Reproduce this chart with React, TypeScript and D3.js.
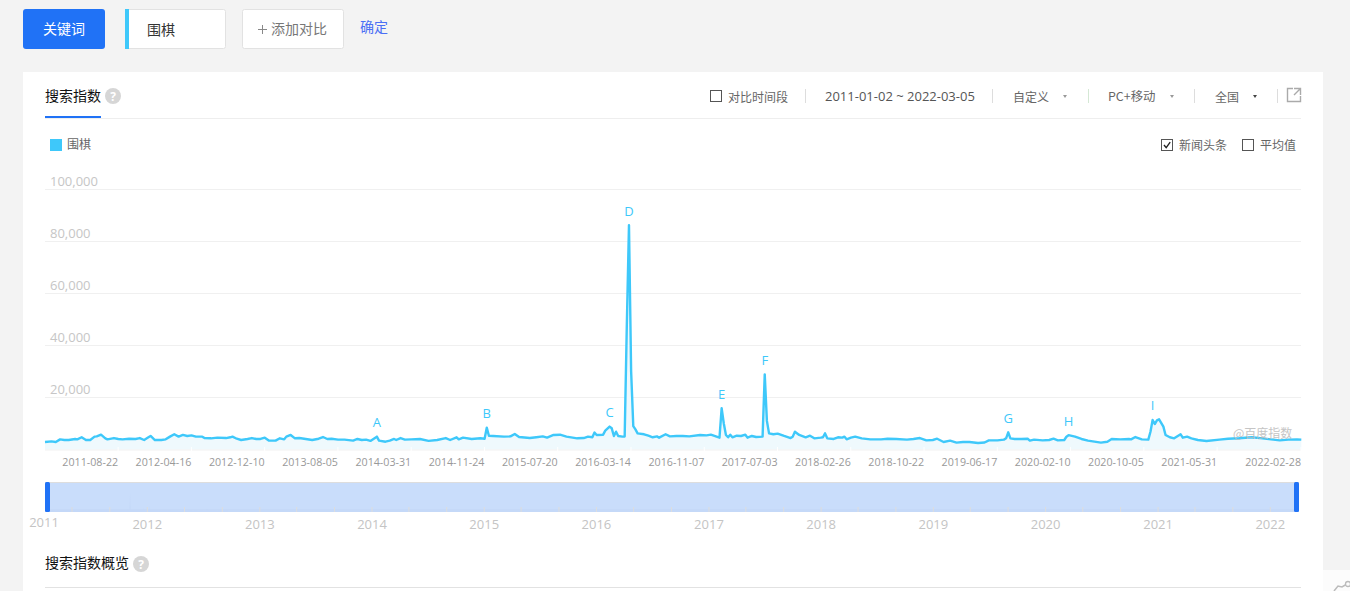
import * as d3 from 'd3';

// Weeks since the first day of the range, with the index
const startDate = new Date(2011, 0, 2);
const endDate = new Date(2022, 2, 5);

const weeks = [
  0, 3, 5, 7, 9, 11, 14, 15, 17, 19,
  21, 23, 24, 26, 28, 29, 32, 34, 36, 39,
  42, 44, 46, 48, 49, 51, 54, 56, 58, 60,
  62, 64, 66, 68, 70, 73, 74, 77, 80, 84,
  86, 87, 89, 91, 94, 96, 98, 100, 102, 104,
  107, 109, 111, 112, 114, 116, 118, 121, 124, 127,
  129, 131, 133, 136, 139, 143, 145, 147, 149, 151,
  154, 155, 158, 160, 162, 163, 165, 167, 170, 174,
  178, 182, 186, 188, 191, 192, 194, 198, 202, 204,
  205, 206, 208, 213, 216, 218, 220, 225, 228, 231,
  233, 236, 239, 242, 247, 250, 252, 254, 255, 256,
  259, 260, 262, 263, 264, 265, 266, 268, 269, 270,
  271, 272, 273, 274, 275, 278, 280, 282, 284, 285,
  288, 290, 293, 296, 299, 304, 307, 309, 313, 314,
  315, 316, 317, 318, 319, 321, 323, 325, 326, 328,
  330, 333, 334, 335, 336, 338, 340, 343, 346, 347,
  348, 350, 353, 355, 357, 360, 361, 362, 363, 366,
  368, 370, 371, 372, 374, 376, 379, 383, 388, 391,
  395, 400, 403, 406, 409, 412, 414, 417, 420, 423,
  426, 429, 433, 436, 438, 442, 445, 446, 447, 448,
  450, 453, 456, 457, 459, 463, 466, 468, 470, 473,
  474, 475, 478, 481, 484, 490, 493, 495, 499, 503,
  504, 506, 509, 512, 513, 514, 515, 516, 517, 519,
  520, 522, 524, 527, 528, 530, 532, 535, 539, 545,
  549, 554, 560, 565, 569, 573, 577, 581, 583,
];

const indexValues = [
  2900, 3140, 2900, 3900, 3650, 3650, 4050, 3900, 4700, 3650,
  3650, 4950, 5050, 5700, 4300, 3900, 4400, 4050, 3900, 4150,
  4050, 4400, 3650, 4700, 5200, 3650, 3650, 3900, 4950, 5850,
  4950, 5600, 5200, 5450, 4950, 4950, 4400, 4300, 4550, 4400,
  4700, 4950, 4150, 3650, 4050, 4400, 4050, 4050, 4550, 3400,
  3400, 4300, 3900, 4950, 5600, 4300, 4400, 4050, 3650, 4150,
  4800, 4050, 4150, 3800, 3800, 3400, 4050, 3650, 3800, 3300,
  4950, 3400, 3000, 3400, 4050, 3650, 4400, 3800, 3900, 4050,
  3300, 3650, 4400, 3650, 4700, 3900, 4550, 4050, 4300, 4150,
  8400, 5300, 5200, 4950, 5050, 5950, 4800, 4400, 4700, 5050,
  4550, 5600, 5700, 4950, 4300, 4400, 4950, 4700, 6500, 5600,
  5700, 7250, 8800, 8150, 5200, 6850, 5200, 4950, 5000, 48000,
  86300, 30000, 9000, 7750, 6200, 5850, 5300, 4700, 5050, 4550,
  5850, 5050, 5200, 5200, 5050, 5600, 5450, 5700, 4550, 15850,
  10000, 5600, 4700, 5700, 4700, 5300, 5200, 5700, 4550, 5200,
  4800, 4950, 28900, 11000, 6200, 5850, 6100, 5200, 4400, 4950,
  6850, 5600, 4700, 5300, 4300, 4550, 4700, 6200, 4300, 4050,
  4700, 4550, 4950, 3900, 4550, 4950, 4300, 3900, 3900, 4150,
  4050, 3800, 4050, 4400, 3500, 3650, 4150, 2900, 3400, 2650,
  2900, 2900, 2500, 2700, 3500, 3500, 3800, 4300, 6600, 4300,
  4050, 4050, 4150, 3400, 3800, 3500, 3650, 4150, 3500, 3650,
  4900, 5500, 4950, 4050, 3400, 2650, 3000, 4050, 3900, 4050,
  3900, 4800, 3900, 3800, 6850, 11350, 9800, 11200, 11600, 8800,
  5600, 4700, 4300, 5850, 4550, 4950, 4300, 3650, 3250, 3800,
  4150, 4300, 4700, 4300, 3900, 3500, 3800, 3900, 3800,
];

const newsLetters = ['A', 'B', 'C', 'D', 'E', 'F', 'G', 'H', 'I'];
const newsWeeks = [154, 205, 262, 271, 314, 334, 447, 475, 514];

const yTicks = [20000, 40000, 60000, 80000, 100000];
const xTickLabels = [
  '2011-08-22', '2012-04-16', '2012-12-10', '2013-08-05', '2014-03-31', '2014-11-24',
  '2015-07-20', '2016-03-14', '2016-11-07', '2017-07-03', '2018-02-26', '2018-10-22',
  '2019-06-17', '2020-02-10', '2020-10-05', '2021-05-31', '2022-02-28',
];
const brushYears = [2011, 2012, 2013, 2014, 2015, 2016, 2017, 2018, 2019, 2020, 2021, 2022];

const LATIN = '"Open Sans", "Noto Sans CJK SC", sans-serif';
const CJK = '"Noto Sans CJK SC", "Open Sans", sans-serif';
const BLUE = '#2072f6';
const CYAN = '#3ec8fa';

const parseDay = d3.timeParse('%Y-%m-%d');
const points = weeks.map((w, i) => ({ week: w, date: d3.timeWeek.offset(startDate, w), value: indexValues[i] }));

const x = d3.scaleTime().domain([startDate, endDate]).range([45, 1301]);
const y = d3.scaleLinear().domain([0, 100000]).range([449.5, 189.5]);

// brush axis runs on its own scale, offset from the main one
const brushX = d3.scaleTime().domain([new Date(2011, 0, 1), new Date(2022, 0, 1)]).range([35.1, 1270.3]);
const brushTicks = d3.timeMonth.range(new Date(2011, 0, 1), new Date(2022, 2, 1), 4).filter(d => brushX(d) > 50);

// thumbnail in the brush is the same series squeezed into the left of the bar
const miniX = d3.scaleTime().domain([startDate, endDate]).range([45, 228]);
const miniY = d3.scaleLinear().domain([0, 86300]).range([511.5, 493]);

const linePath = d3.line<typeof points[0]>().x(d => x(d.date)).y(d => y(d.value)).curve(d3.curveLinear)(points) || '';
const areaPath = d3.area<typeof points[0]>().x(d => x(d.date)).y0(y(0)).y1(d => y(d.value))(points) || '';
const miniPath = d3.area<typeof points[0]>().x(d => miniX(d.date)).y0(miniY(0)).y1(d => miniY(d.value))(points) || '';

const Help = ({ cx, cy }: { cx: number; cy: number }) => (
  <g>
    <circle cx={cx} cy={cy} r={8} fill="#d6d6d6" />
    <text x={cx} y={cy + 4.5} textAnchor="middle" fontSize={12} fontWeight={700} fill="#fff" fontFamily={LATIN}>?</text>
  </g>
);

const Box = ({ px, py, checked }: { px: number; py: number; checked?: boolean }) => (
  <g>
    <rect x={px + 0.5} y={py + 0.5} width={11} height={11} fill="#fff" stroke="#555" />
    {checked && <path d={`M${px + 3} ${py + 6}l2.2 2.6 4-5.4`} fill="none" stroke="#222" strokeWidth={1.4} />}
  </g>
);

const Caret = ({ cx, fill }: { cx: number; fill: string }) => (
  <path d={`M${cx - 2} 95l4 0-2 3z`} fill={fill} />
);

const Label = ({ px, py, text, size = 12, fill = '#666', family = CJK, anchor = 'start' }: any) => (
  <text x={px} y={py - 1} fontSize={size} fill={fill} fontFamily={family} textAnchor={anchor} dominantBaseline="central">{text}</text>
);

export default function App() {
  return (
    <svg width={1350} height={591} style={{ position: 'absolute', left: 0, top: 0, display: 'block' }}>
      <rect width={1350} height={591} fill="#f3f3f3" />
      <rect x={1323} y={570} width={27} height={21} fill="#fcfcfc" />
      <path d="M1334 591l4-5 4 1 5-3" fill="none" stroke="#bbb" strokeWidth={1.5} />
      <circle cx={1348} cy={584} r={2.5} fill="#fcfcfc" stroke="#bbb" strokeWidth={1.3} />
      <rect x={23} y={72} width={1300} height={519} fill="#fff" />

      {/* top controls */}
      <rect x={23} y={9} width={82} height={40} rx={3} fill={BLUE} />
      <Label px={64} py={29} text="关键词" size={14} fill="#fff" anchor="middle" />
      <rect x={125.5} y={9.5} width={100} height={39} rx={2} fill="#fff" stroke="#e2e2e2" />
      <rect x={125} y={9} width={4} height={40} fill={CYAN} />
      <Label px={147} py={30} text="围棋" size={14} fill="#333" />
      <rect x={242.5} y={9.5} width={101} height={39} rx={2} fill="#fff" stroke="#e2e2e2" />
      <path d="M258 29.5h9M262.500 25v9" stroke="#888" strokeWidth={1} />
      <Label px={271} py={29} text="添加对比" size={14} fill="#777" />
      <Label px={360} py={27} text="确定" size={14} fill="#4a6ff5" />

      {/* tab row */}
      <Label px={45} py={96} text="搜索指数" size={14} fill="#111" />
      <Help cx={113} cy={96} />
      <rect x={45} y={116} width={56} height={2} fill={BLUE} />
      <line x1={45} x2={1301} y1={118.5} y2={118.5} stroke="#eee" />
      <Box px={710} py={90} />
      <Label px={728} py={97} text="对比时间段" />
      <Label px={825} py={97} text="2011-01-02 ~ 2022-03-05" size={13} fill="#555" family={LATIN} />
      <Label px={1013} py={97} text="自定义" />
      <Label px={1108} py={97} text="PC+移动" size={12.4} />
      <Label px={1215} py={97} text="全国" />
      <Caret cx={1065} fill="#999" />
      <Caret cx={1172} fill="#999" />
      <Caret cx={1255} fill="#444" />
      {[805, 992, 1194, 1277].map(sx => (
        <line key={sx} x1={sx + 0.5} x2={sx + 0.5} y1={89} y2={103} stroke="#ddd" />
      ))}
      <line x1={1088.5} x2={1088.5} y1={89} y2={103} stroke="#d5e8d5" />
      <path d="M1293 88.5h-5.5v13h13v-5.5M1294 88.5h6.500v6.500M1300 89l-6 6" fill="none" stroke="#aaa" strokeWidth={1.4} />

      {/* legend */}
      <rect x={50} y={139} width={12} height={12} fill={CYAN} />
      <Label px={67} py={144} text="围棋" />
      <Box px={1161} py={139} checked />
      <Label px={1179} py={145} text="新闻头条" />
      <Box px={1242} py={139} />
      <Label px={1260} py={145} text="平均值" />

      {/* grid and y axis */}
      {yTicks.map(t => (
        <g key={t}>
          <line x1={45} x2={1301} y1={y(t)} y2={y(t)} stroke="#f0f0f0" />
          <text x={50} y={y(t) - 9} dominantBaseline="central" fontSize={13} fill="#c6c6c6" fontFamily={LATIN}>{d3.format(',')(t)}</text>
        </g>
      ))}

      {/* series */}
      <path d={areaPath} fill="#eff9fd" />
      <line x1={45} x2={1301} y1={y(0) + 0.5} y2={y(0) + 0.5} stroke="#f1f1f1" />
      <path d={linePath} fill="none" stroke={CYAN} strokeWidth={2.4} strokeLinejoin="round" />

      {/* news markers */}
      {newsLetters.map((letter, i) => {
        const p = points.find(d => d.week === newsWeeks[i])!;
        return (
          <text key={letter} x={x(p.date)} y={y(p.value) - 14.5} textAnchor="middle" dominantBaseline="central" fontSize={13} fill={CYAN} fontFamily={LATIN}>{letter}</text>
        );
      })}

      {/* x axis, labels end at their tick */}
      {xTickLabels.map(label => {
        const tx = Math.min(x(parseDay(label)!) + 1.7, 1301);
        return (
          <g key={label}>
            <line x1={tx} x2={tx} y1={447} y2={451} stroke="#fff" />
            <text x={tx} y={462} textAnchor="end" dominantBaseline="central" fontSize={10.7} fill="#999" fontFamily={LATIN}>{label}</text>
          </g>
        );
      })}

      <text x={1233} y={432} dominantBaseline="central" fontSize={12} fill="#bbb" opacity={0.85} fontFamily={CJK}>@百度指数</text>

      {/* brush */}
      <rect x={45} y={482} width={1254} height={30} fill="#c9ddfb" />
      <line x1={45} x2={1299} y1={482.5} y2={482.5} stroke="#ddd" />
      <rect x={45} y={509} width={1254} height={3} fill="#c5d9f8" />
      <path d={miniPath} fill="#c4d8f8" />
      {brushTicks.map(d => (
        <line key={+d} x1={brushX(d)} x2={brushX(d)} y1={507} y2={512} stroke="#ddd" />
      ))}
      <rect x={45} y={482} width={5} height={30} rx={1.5} fill={BLUE} />
      <rect x={1294} y={482} width={5} height={30} rx={1.5} fill={BLUE} />
      {brushYears.map((year, i) => (
        <text key={year} x={Math.max(44, brushX(new Date(year, 0, 1)))} y={i === 0 ? 521.5 : 523.5} textAnchor="middle" dominantBaseline="central" fontSize={13} fill="#c4c4c4" fontFamily={LATIN}>{year}</text>
      ))}

      {/* next section */}
      <Label px={45} py={563} text="搜索指数概览" size={14} fill="#111" />
      <Help cx={141} cy={564} />
      <line x1={45} x2={1301} y1={587.5} y2={587.5} stroke="#e2e2e2" />
    </svg>
  );
}
